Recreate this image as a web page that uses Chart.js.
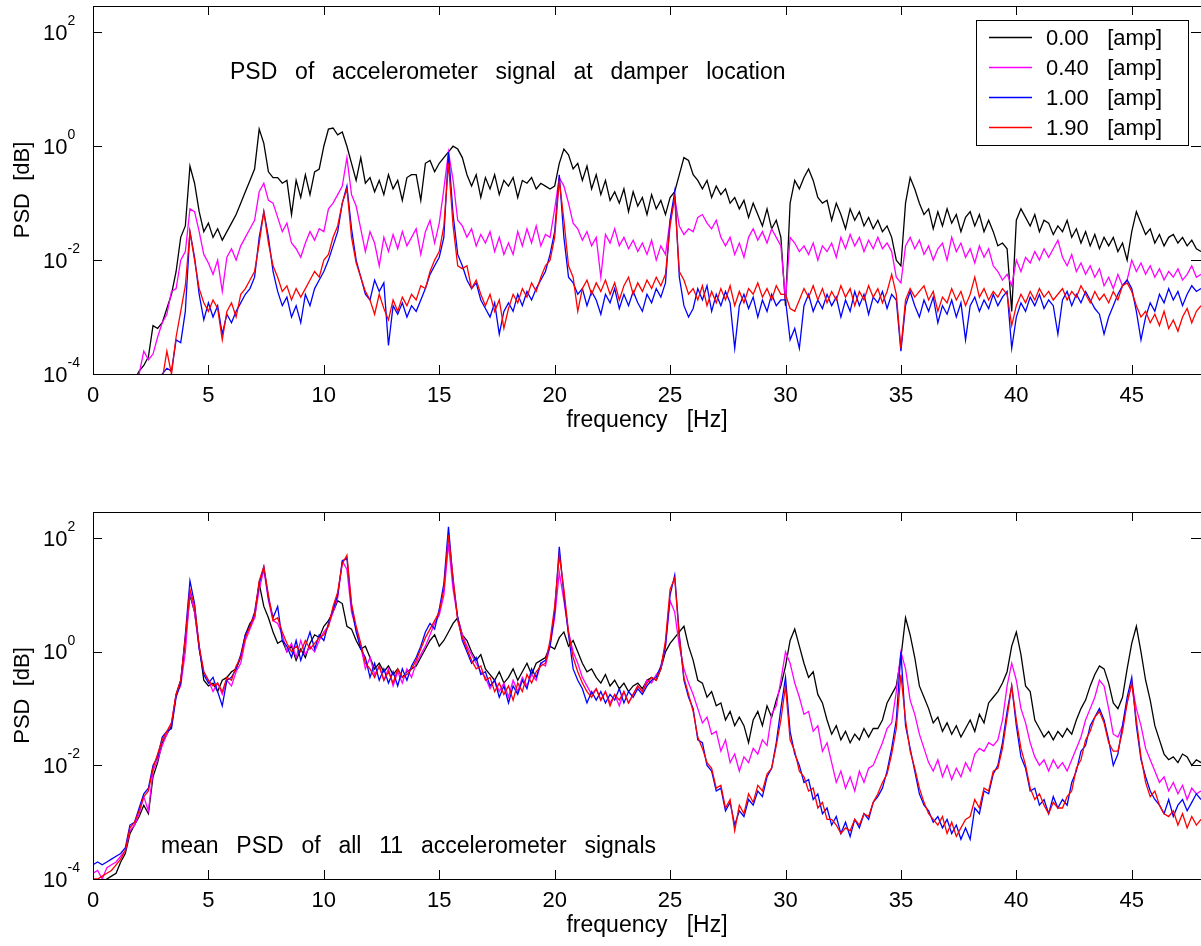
<!DOCTYPE html>
<html>
<head>
<meta charset="utf-8">
<title>PSD vs damper current</title>
<script src="https://cdn.jsdelivr.net/npm/chart.js@4.4.1/dist/chart.umd.min.js"></script>
<style>
  html, body { margin: 0; padding: 0; background: #fff; }
  #wrap { position: relative; width: 1201px; height: 946px; overflow: hidden; }
  canvas { position: absolute; left: 0; }
  #damperChart { top: 0; }
  #meanChart { top: 470px; }
</style>
</head>
<body>
<div id="wrap">
  <canvas id="damperChart" width="1201" height="470"></canvas>
  <canvas id="meanChart" width="1201" height="476"></canvas>
</div>
<script>
// ==================== DATA ====================
// damper current of each run [amp]
const currents = [0.00, 0.40, 1.00, 1.90];
const lineColors = ['#000000', '#ff00ff', '#0000ff', '#ff0000'];

// spectra are sampled every 0.2 Hz, 0 .. 48 Hz
const freqStep = 0.2;
const freqMax = 48;
const xTicks = [0, 5, 10, 15, 20, 25, 30, 35, 40, 45];
const yTickExps = [-4, -2, 0, 2];
const yMin = 1e-4;
const yMax = 290;

// log10(PSD) of the accelerometer at the damper, one array per current
const damper000 = [
  -5,-5,-5,-5,-5,-5,-5,-5,-5,-4.1,
  -3.95,-3.85,-3.7,-3.15,-3.2,-3.1,-2.85,-2.6,-2.2,-1.6,
  -1.4,-0.35,-0.65,-1.15,-1.5,-1.35,-1.6,-1.45,-1.65,-1.5,
  -1.35,-1.2,-1.0,-0.8,-0.6,-0.4,0.3,0.05,-0.45,-0.55,
  -0.55,-0.65,-0.6,-1.2,-0.6,-0.9,-0.5,-0.85,-0.45,-0.4,
  0.0,0.3,0.32,0.2,0.25,0.0,-0.3,-0.6,-0.2,-0.65,
  -0.55,-0.8,-0.6,-0.85,-0.5,-0.75,-0.6,-0.95,-0.55,-0.5,
  -0.5,-0.95,-0.3,-0.25,-0.45,-0.3,-0.2,-0.1,0.0,-0.05,
  -0.2,-0.5,-0.7,-0.5,-0.9,-0.55,-0.75,-0.5,-0.85,-0.6,
  -0.7,-0.55,-0.9,-0.6,-0.65,-0.55,-0.75,-0.65,-0.7,-0.75,
  -0.7,-0.3,-0.05,-0.15,-0.4,-0.3,-0.6,-0.35,-0.75,-0.5,
  -0.85,-0.6,-0.95,-0.8,-1.0,-0.75,-1.15,-0.8,-1.05,-0.9,
  -1.2,-0.85,-1.1,-0.95,-1.2,-0.9,-0.8,-0.5,-0.2,-0.25,
  -0.5,-0.6,-0.75,-0.6,-0.9,-0.7,-0.85,-0.75,-1.0,-0.9,
  -1.1,-0.95,-1.25,-1.0,-1.2,-1.4,-1.1,-1.45,-1.3,-1.6,
  -2.8,-1.0,-0.6,-0.75,-0.55,-0.4,-0.6,-0.9,-1.0,-0.95,
  -1.3,-1.0,-1.2,-1.45,-1.1,-1.3,-1.15,-1.4,-1.25,-1.45,
  -1.3,-1.5,-1.4,-1.6,-2.0,-2.1,-1.0,-0.55,-0.75,-1.0,
  -1.2,-1.1,-1.45,-1.15,-1.4,-1.1,-1.35,-1.2,-1.5,-1.25,
  -1.15,-1.4,-1.2,-1.5,-1.3,-1.5,-1.75,-1.7,-1.8,-2.9,
  -1.3,-1.1,-1.25,-1.4,-1.2,-1.5,-1.3,-1.35,-1.55,-1.4,
  -1.5,-1.3,-1.6,-1.45,-1.7,-1.5,-1.75,-1.55,-1.8,-1.6,
  -1.75,-1.6,-1.85,-1.7,-2.0,-1.5,-1.15,-1.35,-1.55,-1.45,
  -1.7,-1.55,-1.75,-1.6,-1.55,-1.7,-1.6,-1.75,-1.65,-1.8,
  -1.85
];
const damper040 = [
  -5,-5,-5,-5,-5,-5,-5,-5,-5,-4.4,
  -4.0,-3.6,-3.75,-3.65,-3.35,-3.1,-2.95,-2.55,-2.5,-2.0,
  -1.85,-1.1,-1.15,-1.5,-1.9,-2.05,-2.25,-2.0,-2.55,-1.95,
  -1.8,-2.0,-1.75,-1.6,-1.45,-1.3,-0.8,-0.65,-0.95,-1.0,
  -1.25,-1.5,-1.35,-1.7,-1.8,-1.95,-1.7,-1.5,-1.65,-1.45,
  -1.5,-1.1,-1.0,-0.85,-0.7,-0.2,-0.85,-1.05,-1.45,-1.85,
  -1.5,-1.7,-2.1,-1.6,-1.85,-1.55,-1.8,-1.5,-1.75,-1.6,
  -1.45,-1.9,-1.5,-1.3,-1.7,-1.35,-0.75,-0.1,-0.6,-1.3,
  -1.4,-1.6,-1.45,-1.75,-1.55,-1.7,-1.5,-1.85,-1.6,-1.9,
  -1.7,-1.9,-1.5,-1.75,-1.45,-1.7,-1.4,-1.75,-1.55,-1.6,
  -1.1,-0.55,-0.7,-1.0,-1.35,-1.45,-1.65,-1.5,-1.75,-1.6,
  -2.3,-1.55,-1.7,-1.45,-1.75,-1.6,-1.8,-1.65,-1.85,-1.7,
  -1.9,-1.65,-2.0,-1.75,-1.9,-1.3,-0.9,-1.4,-1.55,-1.45,
  -1.5,-1.25,-1.2,-1.35,-1.45,-1.3,-1.6,-1.75,-1.6,-1.9,
  -1.7,-1.95,-1.6,-1.45,-1.65,-1.5,-1.7,-1.45,-1.6,-1.75,
  -2.7,-1.6,-1.7,-1.85,-1.75,-1.9,-1.7,-2.0,-1.75,-1.85,
  -1.7,-1.95,-1.6,-1.8,-1.55,-1.75,-1.6,-1.85,-1.65,-1.8,
  -1.6,-1.8,-1.7,-1.85,-2.3,-2.4,-1.75,-1.6,-1.8,-1.65,
  -1.9,-1.75,-2.0,-1.8,-1.7,-2.0,-1.6,-1.85,-1.7,-1.95,
  -1.8,-2.05,-1.75,-1.95,-1.8,-2.1,-2.2,-2.35,-2.25,-2.45,
  -2.0,-2.2,-1.95,-2.05,-1.85,-2.0,-1.8,-1.95,-1.8,-1.65,
  -1.95,-2.1,-1.9,-2.2,-2.05,-2.25,-2.1,-2.3,-2.15,-2.45,
  -2.3,-2.5,-2.25,-2.45,-2.35,-2.0,-2.2,-2.05,-2.25,-2.1,
  -2.3,-2.15,-2.35,-2.2,-2.3,-2.15,-2.35,-2.25,-2.1,-2.3,
  -2.25
];
const damper100 = [
  -5,-5,-5,-5,-5,-5,-5,-5,-5,-5,
  -5,-5,-5,-5,-4.2,-4.0,-3.9,-3.95,-3.4,-3.45,
  -2.9,-1.5,-1.95,-2.6,-3.05,-2.75,-3.0,-2.8,-3.3,-2.95,
  -3.1,-2.9,-2.75,-2.6,-2.5,-2.3,-1.6,-1.15,-1.6,-2.2,
  -2.55,-2.8,-2.65,-3.0,-2.8,-3.1,-2.6,-2.8,-2.5,-2.35,
  -2.2,-2.0,-1.75,-1.5,-1.0,-0.7,-1.45,-2.0,-2.3,-2.6,
  -2.7,-2.35,-2.55,-2.4,-3.5,-2.8,-2.95,-2.75,-3.0,-2.8,
  -2.9,-2.7,-2.5,-2.25,-2.1,-1.95,-1.6,-0.1,-1.2,-1.9,
  -2.1,-2.35,-2.5,-2.4,-2.7,-2.85,-3.0,-2.75,-3.3,-2.9,
  -2.75,-2.9,-2.6,-2.8,-2.55,-2.7,-2.5,-2.35,-2.2,-1.9,
  -1.5,-0.5,-1.6,-2.3,-2.4,-2.6,-2.5,-2.8,-2.55,-2.7,
  -2.95,-2.6,-2.75,-2.5,-2.85,-2.6,-2.8,-2.55,-2.75,-2.9,
  -2.6,-2.75,-2.5,-2.65,-2.4,-1.3,-0.8,-2.3,-2.8,-3.0,
  -2.85,-2.5,-2.7,-2.45,-2.9,-2.6,-2.8,-2.55,-2.75,-3.55,
  -2.8,-2.6,-2.85,-2.65,-3.0,-2.7,-2.9,-2.6,-2.8,-2.7,
  -2.7,-3.4,-3.2,-3.55,-2.8,-2.6,-2.9,-2.7,-2.85,-2.6,
  -2.8,-2.65,-3.0,-2.7,-2.9,-2.55,-2.8,-2.6,-2.95,-2.65,
  -2.75,-2.55,-2.85,-2.6,-2.7,-3.6,-2.8,-2.55,-2.8,-3.0,
  -2.7,-2.9,-2.65,-3.1,-2.8,-2.95,-2.7,-3.0,-2.75,-3.4,
  -2.8,-2.65,-2.9,-2.7,-2.85,-2.6,-2.8,-2.65,-2.55,-3.55,
  -3.0,-2.75,-2.9,-2.65,-2.8,-2.6,-2.85,-2.7,-2.8,-3.3,
  -2.7,-2.55,-2.8,-2.6,-2.75,-2.55,-2.7,-2.85,-2.95,-3.3,
  -3.0,-2.8,-2.6,-2.45,-2.35,-2.5,-2.9,-3.4,-3.0,-2.75,
  -2.9,-2.6,-2.75,-2.5,-2.7,-2.55,-2.8,-2.6,-2.45,-2.55,
  -2.5
];
const damper190 = [
  -5,-5,-5,-5,-5,-5,-5,-5,-5,-5,
  -5,-5,-5,-5,-5,-4.1,-3.6,-4.0,-3.35,-2.9,
  -2.45,-1.5,-2.0,-2.5,-2.75,-2.9,-2.7,-2.85,-3.4,-2.9,
  -2.75,-3.0,-2.6,-2.5,-2.35,-2.2,-1.7,-1.15,-1.7,-2.1,
  -2.3,-2.55,-2.45,-2.7,-2.5,-2.65,-2.5,-2.35,-2.2,-2.3,
  -2.0,-1.9,-1.6,-1.4,-1.0,-0.75,-1.6,-2.05,-2.3,-2.55,
  -2.7,-2.95,-2.6,-2.85,-3.05,-2.7,-2.9,-2.65,-2.8,-2.6,
  -2.7,-2.45,-2.5,-2.2,-2.0,-1.85,-1.4,-0.3,-1.4,-2.1,
  -2.15,-2.1,-2.5,-2.35,-2.6,-2.8,-2.6,-2.9,-2.7,-3.2,
  -2.85,-2.6,-2.75,-2.5,-2.65,-2.4,-2.55,-2.3,-2.1,-2.0,
  -1.6,-0.6,-1.3,-2.1,-2.3,-2.9,-2.5,-2.35,-2.6,-2.4,
  -2.55,-2.35,-2.6,-2.4,-2.7,-2.45,-2.3,-2.6,-2.4,-2.55,
  -2.35,-2.5,-2.3,-2.45,-2.25,-1.4,-0.9,-2.2,-2.35,-2.6,
  -2.5,-2.7,-2.45,-2.8,-2.55,-2.75,-2.5,-2.7,-2.45,-2.8,
  -2.55,-2.75,-2.5,-2.6,-2.4,-2.65,-2.5,-2.7,-2.45,-2.6,
  -2.6,-2.85,-2.9,-2.7,-2.5,-2.65,-2.45,-2.7,-2.5,-2.75,
  -2.55,-2.7,-2.45,-2.65,-2.5,-2.8,-2.55,-2.7,-2.45,-2.65,
  -2.5,-2.75,-2.55,-2.25,-2.6,-3.55,-2.7,-2.5,-2.65,-2.55,
  -2.45,-2.7,-2.55,-2.9,-2.65,-2.75,-2.5,-2.7,-2.55,-2.8,
  -2.6,-2.3,-2.65,-2.5,-2.7,-2.55,-2.65,-2.5,-2.6,-3.15,
  -2.8,-2.6,-2.75,-2.55,-2.7,-2.5,-2.65,-2.55,-2.7,-2.6,
  -2.5,-2.7,-2.55,-2.65,-2.45,-2.6,-2.75,-2.55,-2.7,-2.6,
  -2.75,-2.55,-2.7,-2.45,-2.4,-2.55,-2.8,-3.0,-2.9,-3.1,
  -2.95,-3.15,-2.9,-3.2,-3.05,-3.25,-3.0,-2.85,-3.1,-2.9,
  -2.8
];

// log10(PSD) averaged over all 11 accelerometers, one array per current
const mean000 = [
  -4.3,-4.15,-4.05,-4.0,-3.95,-3.9,-3.7,-3.55,-3.2,-3.05,
  -2.9,-2.7,-2.85,-2.2,-1.95,-1.6,-1.45,-1.3,-0.75,-0.5,
  0.2,1.0,0.7,0.1,-0.5,-0.6,-0.55,-0.7,-0.5,-0.45,
  -0.35,-0.3,-0.1,0.3,0.5,0.6,1.2,0.8,0.6,0.35,
  0.15,0.2,0.0,0.1,-0.15,0.05,-0.1,0.15,0.3,0.25,
  0.45,0.55,0.7,0.9,0.85,0.45,0.4,0.2,0.05,0.1,
  -0.1,-0.3,-0.2,-0.35,-0.25,-0.4,-0.3,-0.45,-0.35,-0.3,
  -0.25,-0.1,0.05,0.2,0.3,0.1,0.2,0.35,0.5,0.6,
  0.3,0.2,0.0,-0.15,-0.05,-0.3,-0.4,-0.5,-0.35,-0.55,
  -0.45,-0.3,-0.5,-0.35,-0.2,-0.4,-0.2,-0.15,-0.1,0.1,
  0.05,0.25,0.35,0.1,0.2,0.0,-0.2,-0.35,-0.3,-0.45,
  -0.55,-0.4,-0.6,-0.5,-0.65,-0.55,-0.7,-0.6,-0.55,-0.65,
  -0.5,-0.45,-0.5,-0.3,0.0,0.15,0.25,0.35,0.45,0.1,
  -0.15,-0.5,-0.55,-0.8,-0.7,-0.95,-0.9,-1.2,-1.05,-1.3,
  -1.15,-1.3,-1.6,-1.2,-1.05,-1.3,-0.95,-1.15,-0.85,-0.6,
  -0.25,0.2,0.4,0.1,-0.2,-0.45,-0.35,-0.75,-0.9,-1.2,
  -1.45,-1.3,-1.55,-1.4,-1.6,-1.45,-1.55,-1.35,-1.5,-1.35,
  -1.35,-1.2,-0.9,-0.75,-0.6,-0.1,0.6,0.3,-0.1,-0.6,
  -0.8,-1.0,-1.25,-1.15,-1.4,-1.25,-1.45,-1.3,-1.5,-1.35,
  -1.2,-1.4,-1.1,-1.25,-0.9,-0.8,-0.7,-0.55,-0.35,0.1,
  0.35,-0.05,-0.6,-0.7,-1.2,-1.35,-1.5,-1.4,-1.55,-1.4,
  -1.5,-1.35,-1.45,-1.2,-1.0,-0.85,-0.6,-0.4,-0.25,-0.3,
  -0.55,-0.9,-1.0,-0.8,-0.3,0.15,0.45,0.0,-0.5,-0.85,
  -1.3,-1.55,-1.8,-1.9,-1.85,-1.95,-1.8,-1.85,-2.0,-1.9,
  -1.95
];
const mean040 = [
  -3.9,-3.85,-4.0,-3.8,-3.75,-3.7,-3.6,-3.5,-3.15,-3.05,
  -2.85,-2.55,-2.8,-2.1,-1.9,-1.65,-1.45,-1.25,-0.75,-0.6,
  0.0,1.05,0.7,0.05,-0.35,-0.5,-0.7,-0.55,-0.75,-0.5,
  -0.6,-0.35,-0.2,0.2,0.4,0.6,1.1,1.45,0.9,0.55,
  0.5,0.3,0.0,0.15,-0.1,0.2,-0.05,0.1,0.0,0.2,
  0.35,0.45,0.7,0.95,1.6,1.45,0.7,0.4,0.1,-0.3,
  -0.1,-0.4,-0.25,-0.5,-0.3,-0.6,-0.35,-0.55,-0.3,-0.45,
  -0.2,-0.05,0.1,0.3,0.5,0.65,1.0,1.9,1.1,0.6,
  0.3,0.1,-0.05,-0.2,-0.35,-0.45,-0.65,-0.5,-0.7,-0.55,
  -0.8,-0.5,-0.7,-0.45,-0.6,-0.4,-0.5,-0.2,-0.25,0.1,
  0.6,1.4,0.9,0.35,0.0,-0.2,-0.45,-0.6,-0.75,-0.65,
  -0.85,-0.7,-0.9,-0.75,-0.95,-0.7,-0.9,-0.75,-0.6,-0.7,
  -0.5,-0.55,-0.4,-0.3,0.1,0.9,0.7,0.1,-0.3,-0.55,
  -0.75,-1.0,-1.25,-1.15,-1.45,-1.4,-1.75,-1.55,-1.95,-1.8,
  -2.1,-1.85,-1.95,-1.7,-1.8,-1.55,-1.65,-1.1,-0.95,-0.5,
  0.0,-0.2,-0.55,-0.8,-1.1,-1.05,-1.4,-1.3,-1.75,-1.6,
  -1.95,-2.3,-2.1,-2.4,-2.2,-2.45,-2.1,-2.3,-2.05,-2.0,
  -1.8,-1.6,-1.35,-1.25,-0.7,0.0,-0.3,-0.85,-1.1,-1.45,
  -1.7,-1.95,-2.1,-1.9,-2.2,-2.0,-2.25,-2.05,-2.2,-1.95,
  -2.1,-1.8,-1.7,-1.75,-1.6,-1.65,-1.55,-1.2,-0.6,-0.2,
  -0.5,-1.0,-1.25,-1.6,-1.85,-2.0,-1.9,-2.1,-1.9,-2.05,
  -1.95,-2.1,-1.9,-1.7,-1.5,-1.2,-1.0,-0.8,-0.5,-0.6,
  -1.0,-1.45,-1.5,-1.3,-0.9,-0.55,-1.0,-1.3,-1.7,-1.9,
  -2.1,-2.3,-2.2,-2.45,-2.3,-2.5,-2.35,-2.6,-2.4,-2.5,
  -2.45
];
const mean100 = [
  -3.75,-3.7,-3.75,-3.7,-3.65,-3.6,-3.55,-3.45,-3.05,-3.0,
  -2.75,-2.5,-2.4,-2.0,-1.85,-1.5,-1.4,-1.35,-0.8,-0.55,
  0.3,1.25,0.85,0.05,-0.4,-0.55,-0.45,-0.7,-0.95,-0.5,
  -0.45,-0.3,-0.05,0.3,0.45,0.7,1.2,1.5,0.95,0.6,
  0.8,0.2,0.1,-0.1,0.2,-0.15,0.1,0.35,0.05,0.3,
  0.2,0.5,0.75,1.0,1.6,1.65,0.8,0.35,0.05,-0.1,
  -0.45,-0.2,-0.5,-0.3,-0.55,-0.35,-0.6,-0.3,-0.5,-0.25,
  -0.1,0.1,0.35,0.5,0.4,0.75,1.2,2.2,1.25,0.6,
  0.2,0.0,-0.2,-0.1,-0.4,-0.35,-0.6,-0.5,-0.8,-0.6,
  -0.9,-0.6,-0.75,-0.5,-0.65,-0.3,-0.45,-0.2,-0.15,0.1,
  0.7,1.85,1.0,0.3,-0.3,-0.5,-0.65,-0.9,-0.7,-0.85,
  -0.7,-0.9,-0.75,-0.85,-0.65,-0.9,-0.7,-0.8,-0.65,-0.75,
  -0.6,-0.5,-0.45,-0.25,0.1,1.0,1.35,0.3,-0.5,-0.8,
  -1.0,-1.55,-1.6,-2.0,-2.1,-2.45,-2.4,-2.8,-2.65,-3.05,
  -2.8,-2.9,-2.6,-2.7,-2.45,-2.55,-2.2,-2.05,-1.6,-1.0,
  -0.45,-1.4,-1.8,-2.0,-2.3,-2.25,-2.6,-2.5,-2.85,-2.75,
  -3.05,-2.9,-3.2,-3.0,-3.25,-2.95,-3.1,-2.85,-2.95,-2.65,
  -2.55,-2.4,-2.1,-1.7,-1.2,0.0,-1.3,-1.7,-2.1,-2.5,
  -2.7,-2.8,-3.0,-2.9,-3.1,-2.95,-3.2,-3.05,-3.3,-3.1,
  -3.3,-2.75,-2.85,-2.45,-2.5,-2.15,-2.0,-1.6,-1.05,-0.6,
  -1.3,-1.85,-2.05,-2.45,-2.4,-2.7,-2.6,-2.85,-2.55,-2.75,
  -2.6,-2.7,-2.3,-2.1,-1.75,-1.65,-1.3,-1.15,-1.0,-1.2,
  -1.55,-2.0,-1.8,-1.3,-0.8,-0.45,-1.3,-1.9,-2.2,-2.45,
  -2.6,-2.7,-2.85,-2.6,-2.9,-2.7,-2.6,-2.8,-2.65,-2.5,
  -2.6
];
const mean190 = [
  -4.0,-4.0,-3.95,-3.9,-3.85,-3.75,-3.65,-3.5,-3.1,-3.0,
  -2.8,-2.55,-2.45,-2.05,-1.8,-1.55,-1.4,-1.25,-0.75,-0.5,
  0.25,1.1,0.8,0.1,-0.35,-0.5,-0.6,-0.55,-0.7,-0.45,
  -0.5,-0.25,-0.1,0.25,0.45,0.65,1.25,1.5,1.0,0.55,
  0.6,0.35,0.15,0.0,0.1,0.0,0.2,0.05,0.15,0.25,
  0.3,0.45,0.8,1.05,1.55,1.7,0.85,0.45,0.15,-0.2,
  -0.3,-0.45,-0.25,-0.5,-0.35,-0.55,-0.3,-0.45,-0.4,-0.3,
  -0.15,0.05,0.25,0.4,0.55,0.7,1.1,2.05,1.3,0.55,
  0.25,0.05,-0.15,-0.3,-0.25,-0.5,-0.45,-0.7,-0.55,-0.75,
  -0.6,-0.85,-0.55,-0.7,-0.4,-0.55,-0.35,-0.25,-0.2,0.2,
  0.8,1.7,1.1,0.35,-0.1,-0.35,-0.55,-0.7,-0.8,-0.65,
  -0.85,-0.7,-0.95,-0.75,-0.85,-0.7,-0.9,-0.75,-0.6,-0.7,
  -0.55,-0.45,-0.5,-0.3,0.2,1.1,1.3,0.25,-0.45,-0.75,
  -1.05,-1.5,-1.7,-1.95,-2.05,-2.4,-2.35,-2.75,-2.6,-3.15,
  -2.7,-2.85,-2.5,-2.65,-2.35,-2.45,-2.15,-2.05,-1.65,-1.2,
  -0.6,-1.55,-1.75,-2.1,-2.2,-2.45,-2.4,-2.75,-2.65,-2.95,
  -2.95,-3.05,-3.2,-3.1,-3.15,-2.95,-3.05,-2.85,-2.9,-2.65,
  -2.5,-2.3,-2.15,-1.8,-1.35,-0.4,-1.2,-1.75,-2.05,-2.4,
  -2.65,-2.85,-2.95,-3.05,-2.9,-3.2,-3.0,-3.25,-3.1,-2.95,
  -2.9,-2.6,-2.75,-2.4,-2.45,-2.1,-2.05,-1.7,-1.15,-0.6,
  -1.2,-1.7,-2.0,-2.4,-2.6,-2.5,-2.7,-2.85,-2.65,-2.75,
  -2.75,-2.55,-2.45,-2.05,-1.9,-1.55,-1.4,-1.15,-1.05,-1.25,
  -1.6,-1.75,-1.75,-1.4,-0.9,-0.55,-1.2,-1.85,-2.3,-2.55,
  -2.45,-2.7,-2.85,-2.9,-2.8,-3.05,-2.85,-3.1,-2.9,-3.05,
  -2.95
];

// ==================== HELPERS ====================
const FONT = '"Liberation Sans", Arial, sans-serif';
Chart.defaults.font.family = FONT;
Chart.defaults.color = '#000';

const freq = damper000.map((_, i) => +(i * freqStep).toFixed(1));

function toPoints(logs) {
  return logs.map((v, i) => ({ x: freq[i], y: Math.pow(10, v) }));
}

function buildDatasets(seriesList) {
  return seriesList.map((logs, i) => ({
    label: currents[i].toFixed(2) + '   [amp]',
    data: toPoints(logs),
    borderColor: lineColors[i],
    borderWidth: 1.3,
    pointRadius: 0,
    tension: 0,
    fill: false,
    order: seriesList.length - 1 - i   // last current drawn on top
  }));
}

// words of the note spread with a wide gap
function drawSpacedText(ctx, text, x, y, gap) {
  let cx = x;
  text.split(' ').forEach(word => {
    ctx.fillText(word, cx, y);
    cx += ctx.measureText(word).width + gap;
  });
}

// ==================== BOX, TICKS, LABELS, LEGEND ====================
const framePlugin = {
  id: 'frame',
  afterDraw(chart, args, opts) {
    const { ctx, chartArea: a, scales: { x, y } } = chart;
    ctx.save();
    ctx.strokeStyle = '#000';
    ctx.fillStyle = '#000';
    ctx.lineWidth = 1;

    // axes box
    ctx.strokeRect(a.left + 0.5, a.top + 0.5, a.right - a.left, a.bottom - a.top);

    // inward ticks
    ctx.beginPath();
    xTicks.forEach(v => {
      const px = Math.round(x.getPixelForValue(v)) + 0.5;
      ctx.moveTo(px, a.bottom);
      ctx.lineTo(px, a.bottom - 9);
      ctx.moveTo(px, a.top);
      ctx.lineTo(px, a.top + 9);
    });
    yTickExps.forEach(e => {
      const py = Math.round(y.getPixelForValue(Math.pow(10, e))) + 0.5;
      ctx.moveTo(a.left, py);
      ctx.lineTo(a.left + 9, py);
      ctx.moveTo(a.right, py);
      ctx.lineTo(a.right - 10, py);
    });
    ctx.stroke();

    // y tick labels as 10 with a raised exponent
    yTickExps.forEach(e => {
      const py = y.getPixelForValue(Math.pow(10, e));
      ctx.font = '22px ' + FONT;
      ctx.textAlign = 'right';
      ctx.textBaseline = 'middle';
      ctx.fillText('10', a.left - 25.5, py + 1.5);
      ctx.font = '14px ' + FONT;
      ctx.textAlign = 'left';
      ctx.textBaseline = 'alphabetic';
      ctx.fillText(String(e), a.left - 25.5, py - 7);
    });

    // note inside the axes
    ctx.font = '23px ' + FONT;
    ctx.textAlign = 'left';
    ctx.textBaseline = 'alphabetic';
    drawSpacedText(ctx, opts.note, opts.noteX, opts.noteY, 17.8);

    // legend box
    if (opts.legend) {
      const lx = 976.5, ly = 20.5, lw = 212, lh = 125;
      ctx.fillStyle = '#fff';
      ctx.fillRect(lx, ly, lw, lh);
      ctx.strokeStyle = '#000';
      ctx.strokeRect(lx, ly, lw, lh);
      ctx.font = '22px ' + FONT;
      ctx.textBaseline = 'middle';
      chart.data.datasets.forEach((ds, i) => {
        const ry = 37.5 + i * 30;
        ctx.strokeStyle = ds.borderColor;
        ctx.lineWidth = 1.3;
        ctx.beginPath();
        ctx.moveTo(989, ry);
        ctx.lineTo(1032, ry);
        ctx.stroke();
        ctx.fillStyle = '#000';
        ctx.fillText(ds.label, 1046, ry + 1);
      });
    }
    ctx.restore();
  }
};

function makePanel(canvasId, seriesList, note, noteX, noteY, padTop, padBottom, legend) {
  return new Chart(document.getElementById(canvasId), {
    type: 'line',
    data: { datasets: buildDatasets(seriesList) },
    options: {
      responsive: false,
      animation: false,
      devicePixelRatio: 1,
      events: [],
      layout: { padding: { top: padTop, bottom: padBottom, left: 0, right: 0 } },
      scales: {
        x: {
          type: 'linear',
          min: 0,
          max: freqMax,
          grid: { display: false, drawTicks: false },
          border: { display: false },
          ticks: {
            font: { size: 22 },
            color: '#000',
            padding: 9,
            maxRotation: 0,
            autoSkip: false
          },
          title: {
            display: true,
            text: 'frequency   [Hz]',
            font: { size: 23 },
            color: '#000',
            padding: { top: 0, bottom: 0 }
          },
          afterBuildTicks: s => { s.ticks = xTicks.map(v => ({ value: v })); },
          afterFit: s => { s.height = 60; }
        },
        y: {
          type: 'logarithmic',
          min: yMin,
          max: yMax,
          grid: { display: false, drawTicks: false },
          border: { display: false },
          ticks: { display: false },
          title: {
            display: true,
            text: 'PSD  [dB]',
            font: { size: 22 },
            color: '#000',
            padding: { top: 10, bottom: 0 }
          },
          afterBuildTicks: s => { s.ticks = yTickExps.map(e => ({ value: Math.pow(10, e) })); },
          afterFit: s => { s.width = 93; }
        }
      },
      plugins: {
        legend: { display: false },
        tooltip: { enabled: false },
        frame: { note: note, noteX: noteX, noteY: noteY, legend: legend }
      }
    },
    plugins: [framePlugin]
  });
}

// ==================== PANELS ====================
makePanel('damperChart', [damper000, damper040, damper100, damper190],
  'PSD of accelerometer signal at damper location', 230, 79, 6, 36, true);

makePanel('meanChart', [mean000, mean040, mean100, mean190],
  'mean PSD of all 11 accelerometer signals', 161, 382.7, 42, 7, false);
</script>
</body>
</html>
